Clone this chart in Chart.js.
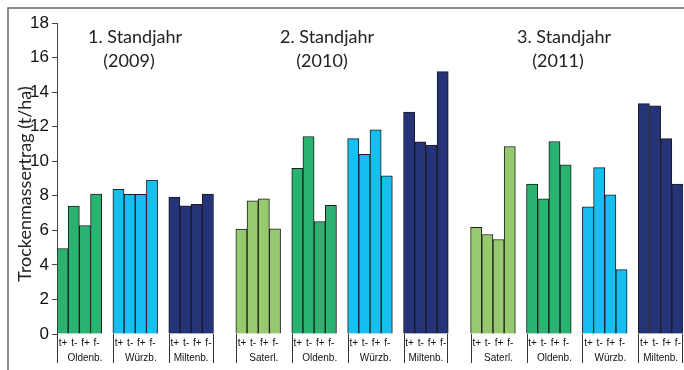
<!DOCTYPE html>
<html>
<head>
<meta charset="utf-8">
<script src="https://cdn.jsdelivr.net/npm/chart.js@4.4.0/dist/chart.umd.min.js"></script>
<style>
  html, body { margin: 0; padding: 0; background: #fff; }
  #wrap { width: 684px; height: 370px; }
</style>
</head>
<body>
<div id="wrap"><canvas id="chart"></canvas></div>
<script>
const treatments = ['t+', 't-', 'f+', 'f-'];
const yearTitles = ['1. Standjahr', '2. Standjahr', '3. Standjahr'];
const yearLabels = ['(2009)', '(2010)', '(2011)'];
const sites2009 = ['Oldenb.', 'Würzb.', 'Miltenb.'];
const sites2010 = ['Saterl.', 'Oldenb.', 'Würzb.', 'Miltenb.'];
const sites2011 = ['Saterl.', 'Oldenb.', 'Würzb.', 'Miltenb.'];
//dry matter yield (t/ha), one row per site, columns t+ t- f+ f-
const yield2009 = [[4.95, 7.40, 6.28, 8.10], [8.37, 8.08, 8.08, 8.91], [7.93, 7.42, 7.50, 8.10]];
const yield2010 = [[6.07, 7.71, 7.83, 6.09], [9.59, 11.43, 6.51, 7.44], [11.31, 10.40, 11.82, 9.16], [12.84, 11.12, 10.93, 15.19]];
const yield2011 = [[6.17, 5.76, 5.47, 10.85], [8.68, 7.83, 11.14, 9.79], [7.36, 9.63, 8.06, 3.73], [13.33, 13.21, 11.31, 8.68]];
const yTicks = [0, 2, 4, 6, 8, 10, 12, 14, 16, 18];
const yTitle = 'Trockenmassertrag (t/ha)';

const siteColors = {
  'Saterl.': '#97c96f',
  'Oldenb.': '#29b270',
  'Würzb.': '#16bfef',
  'Miltenb.': '#253379'
};

//build the 56 slots: 4 bars per site, one empty slot between sites, two between years
const sitesByYear = [sites2009, sites2010, sites2011];
const yieldsByYear = [yield2009, yield2010, yield2011];
const slotLabels = [];
const slotValues = [];
const slotColors = [];
const groups = [];
sitesByYear.forEach((sites, y) => {
  if (y > 0) { for (let k = 0; k < 2; k++) { slotLabels.push('gap' + slotLabels.length); slotValues.push(null); slotColors.push('#fff'); } }
  sites.forEach((site, i) => {
    if (i > 0) { slotLabels.push('gap' + slotLabels.length); slotValues.push(null); slotColors.push('#fff'); }
    groups.push({ start: slotLabels.length, site: site, year: y, last: i === sites.length - 1 });
    treatments.forEach((t, j) => {
      slotLabels.push(yearLabels[y] + ' ' + site + ' ' + t);
      slotValues.push(yieldsByYear[y][i][j]);
      slotColors.push(siteColors[site]);
    });
  });
});

const titleFont = '18px Lato';

//frame, titles, axis title and the label table under the bars
const decorPlugin = {
  id: 'decor',
  afterDraw(chart) {
    const ctx = chart.ctx;
    const x = chart.scales.x;
    const area = chart.chartArea;
    const slotW = (area.right - area.left) / slotLabels.length;
    ctx.save();
    //frame
    ctx.strokeStyle = '#666';
    ctx.lineWidth = 1.5;
    ctx.beginPath();
    ctx.moveTo(8, 370);
    ctx.lineTo(8, 8);
    ctx.lineTo(684, 8);
    ctx.stroke();

    //year titles
    ctx.fillStyle = '#222';
    ctx.font = titleFont;
    ctx.textAlign = 'center';
    ctx.textBaseline = 'alphabetic';
    const titleX = [135, 327, 564];
    const labelX = [129, 322, 558];
    yearTitles.forEach((t, i) => {
      ctx.fillText(t, titleX[i], 43);
      ctx.fillText(yearLabels[i], labelX[i], 67);
    });

    //y axis title
    ctx.save();
    ctx.translate(25, 184);
    ctx.rotate(-Math.PI / 2);
    ctx.font = '18px Lato';
    ctx.textBaseline = 'middle';
    ctx.fillText(yTitle, 0, 0);
    ctx.restore();

    //table under the bars
    ctx.strokeStyle = '#333';
    ctx.lineWidth = 1;
    ctx.fillStyle = '#111';
    ctx.textBaseline = 'middle';
    groups.forEach(g => {
      const left = x.getPixelForValue(g.start) - slotW / 2;
      const right = x.getPixelForValue(g.start + 3) + slotW / 2;
      ctx.beginPath();
      ctx.moveTo(Math.round(left) + 0.5, area.bottom);
      ctx.lineTo(Math.round(left) + 0.5, 363);
      if (g.last) {
        ctx.moveTo(Math.round(right) - 0.5, area.bottom);
        ctx.lineTo(Math.round(right) - 0.5, 363);
      }
      ctx.stroke();
      ctx.font = '10px "Liberation Sans"';
      treatments.forEach((t, j) => {
        ctx.fillText(t, x.getPixelForValue(g.start + j) + 0.5, 343);
      });
      ctx.font = '10px "Liberation Sans"';
      const cellRight = g.last ? right : right + slotW;
      ctx.fillText(g.site, (left + cellRight) / 2, 358);
    });
    ctx.restore();
  }
};

new Chart(document.getElementById('chart'), {
  type: 'bar',
  plugins: [decorPlugin],
  data: {
    labels: slotLabels,
    datasets: [{
      data: slotValues,
      backgroundColor: slotColors,
      borderColor: '#1c1c1c',
      borderWidth: 1,
      categoryPercentage: 1,
      barPercentage: 1
    }]
  },
  options: {
    responsive: true,
    maintainAspectRatio: false,
    animation: false,
    layout: { padding: { left: 8, top: 23, right: 1, bottom: 36 } },
    plugins: { legend: { display: false }, tooltip: { enabled: false } },
    scales: {
      x: { display: false },
      y: {
        min: 0,
        max: 18,
        afterFit(scale) { scale.width = 49; },
        afterBuildTicks(scale) { scale.ticks = yTicks.map(v => ({ value: v })); },
        grid: { drawOnChartArea: false, drawTicks: true, tickLength: 5, color: '#444' },
        border: { color: '#444', width: 1 },
        ticks: {
          color: '#111',
          padding: 3,
          font: { family: '"Liberation Sans", Arial', size: 17 }
        }
      }
    }
  }
});
</script>
</body>
</html>
